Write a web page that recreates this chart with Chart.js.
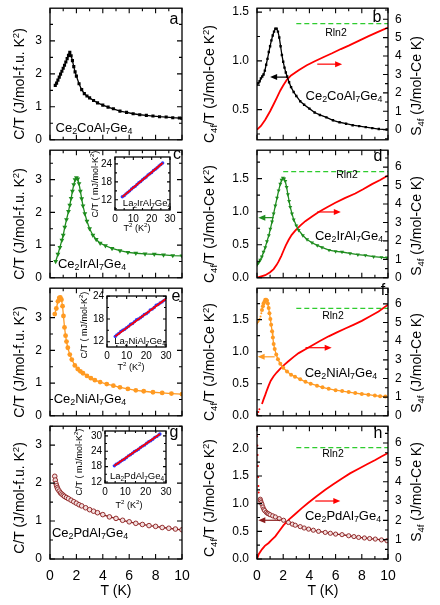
<!DOCTYPE html>
<html>
<head>
<meta charset="utf-8">
<title>Ce2TAl7Ge4 specific heat</title>
<script src="https://cdn.jsdelivr.net/npm/chart.js@4.4.1/dist/chart.umd.min.js"></script>
<style>
html, body { margin: 0; padding: 0; background: #fff; }
#fig { position: relative; width: 440px; height: 605px; overflow: hidden; font-family: 'Liberation Sans', Arial, sans-serif; color: #000; }
#fig canvas { position: absolute; }
.lbl { position: absolute; z-index: 2; white-space: nowrap; line-height: 1; transform: translate(-50%, -50%); }
.rot { transform: translate(-50%, -50%) rotate(-90deg); }
.lbl sub { font-size: 0.68em; vertical-align: -0.3em; line-height: 0; }
.lbl sup { font-size: 0.68em; vertical-align: 0.5em; line-height: 0; }
.yt { font-size: 14px; }
.cmp { font-size: 13px; }
.let { font-size: 16px; }
.rl { font-size: 10.5px; }
.ins { font-size: 9.5px; }
.it { font-size: 9px; }
.xt { font-size: 14px; }
</style>
</head>
<body>
<div id="fig">
  <!-- axis titles -->
  <div class="lbl rot yt" style="left:19px;top:84px">C/T (J/mol-f.u. K<sup>2</sup>)</div>
  <div class="lbl rot yt" style="left:19px;top:224px">C/T (J/mol-f.u. K<sup>2</sup>)</div>
  <div class="lbl rot yt" style="left:19px;top:362px">C/T (J/mol-f.u. K<sup>2</sup>)</div>
  <div class="lbl rot yt" style="left:19px;top:498px">C/T (J/mol-f.u. K<sup>2</sup>)</div>
  <div class="lbl rot yt" style="left:209px;top:84px">C<sub>4f</sub>/T (J/mol-Ce K<sup>2</sup>)</div>
  <div class="lbl rot yt" style="left:209px;top:224px">C<sub>4f</sub>/T (J/mol-Ce K<sup>2</sup>)</div>
  <div class="lbl rot yt" style="left:209px;top:362px">C<sub>4f</sub>/T (J/mol-Ce K<sup>2</sup>)</div>
  <div class="lbl rot yt" style="left:209px;top:498px">C<sub>4f</sub>/T (J/mol-Ce K<sup>2</sup>)</div>
  <div class="lbl rot yt" style="left:416px;top:86px">S<sub>4f</sub> (J/mol-Ce K)</div>
  <div class="lbl rot yt" style="left:416px;top:226px">S<sub>4f</sub> (J/mol-Ce K)</div>
  <div class="lbl rot yt" style="left:416px;top:363px">S<sub>4f</sub> (J/mol-Ce K)</div>
  <div class="lbl rot yt" style="left:416px;top:492px">S<sub>4f</sub> (J/mol-Ce K)</div>
  <div class="lbl xt" style="left:116px;top:590px">T (K)</div>
  <div class="lbl xt" style="left:323px;top:590px">T (K)</div>

  <!-- compounds -->
  <div class="lbl cmp" style="left:94px;top:127px">Ce<sub>2</sub>CoAl<sub>7</sub>Ge<sub>4</sub></div>
  <div class="lbl cmp" style="left:92px;top:263px">Ce<sub>2</sub>IrAl<sub>7</sub>Ge<sub>4</sub></div>
  <div class="lbl cmp" style="left:90px;top:398px">Ce<sub>2</sub>NiAl<sub>7</sub>Ge<sub>4</sub></div>
  <div class="lbl cmp" style="left:90px;top:532px">Ce<sub>2</sub>PdAl<sub>7</sub>Ge<sub>4</sub></div>
  <div class="lbl cmp" style="left:344px;top:95px">Ce<sub>2</sub>CoAl<sub>7</sub>Ge<sub>4</sub></div>
  <div class="lbl cmp" style="left:349px;top:235px">Ce<sub>2</sub>IrAl<sub>7</sub>Ge<sub>4</sub></div>
  <div class="lbl cmp" style="left:341px;top:372px">Ce<sub>2</sub>NiAl<sub>7</sub>Ge<sub>4</sub></div>
  <div class="lbl cmp" style="left:343px;top:515px">Ce<sub>2</sub>PdAl<sub>7</sub>Ge<sub>4</sub></div>

  <!-- panel letters -->
  <div class="lbl let" style="left:174px;top:19px">a</div>
  <div class="lbl let" style="left:377px;top:17px">b</div>
  <div class="lbl let" style="left:177px;top:154px">c</div>
  <div class="lbl let" style="left:378px;top:156px">d</div>
  <div class="lbl let" style="left:176px;top:296px">e</div>
  <div class="lbl let" style="left:383px;top:290px">f</div>
  <div class="lbl let" style="left:174px;top:432px">g</div>
  <div class="lbl let" style="left:378px;top:433px">h</div>

  <!-- Rln2 -->
  <div class="lbl rl" style="left:336px;top:32px">Rln2</div>
  <div class="lbl rl" style="left:347px;top:174px">Rln2</div>
  <div class="lbl rl" style="left:333px;top:315px">Rln2</div>
  <div class="lbl rl" style="left:333px;top:453px">Rln2</div>

  <!-- insets -->
  <div class="lbl rot it" style="left:95px;top:184px">C/T ( mJ/mol-K<sup>2</sup>)</div>
  <div class="lbl it" style="left:137px;top:228px">T<sup>2</sup> (K<sup>2</sup>)</div>
  <div class="lbl ins" style="left:147px;top:203px">La<sub>2</sub>IrAl<sub>7</sub>Ge<sub>4</sub></div>
  <div class="lbl rot it" style="left:84px;top:325px">C/T ( mJ/mol-K<sup>2</sup>)</div>
  <div class="lbl it" style="left:131px;top:367px">T<sup>2</sup> (K<sup>2</sup>)</div>
  <div class="lbl ins" style="left:140px;top:341px">La<sub>2</sub>NiAl<sub>7</sub>Ge<sub>4</sub></div>
  <div class="lbl rot it" style="left:79px;top:462px">C/T ( mJ/mol-K<sup>2</sup>)</div>
  <div class="lbl it" style="left:129px;top:505px">T<sup>2</sup> (K<sup>2</sup>)</div>
  <div class="lbl ins" style="left:137px;top:476px">La<sub>2</sub>PdAl<sub>7</sub>Ge<sub>4</sub></div>
</div>
<script>
// ---- data ----
// Ce2CoAl7Ge4, C/T per f.u.
const tCo = [0.4, 0.5, 0.6, 0.7, 0.8, 0.9, 1.0, 1.1, 1.2, 1.3, 1.4, 1.5, 1.6, 1.7, 1.8, 1.9, 2.0, 2.2, 2.4, 2.6, 2.8, 3.0, 3.3, 3.6, 4.0, 4.4, 4.8, 5.3, 5.8, 6.3, 6.8, 7.3, 7.8, 8.3, 8.8, 9.3, 9.8, 10];
const cCo = [1.65, 1.72, 1.81, 1.90, 1.99, 2.08, 2.17, 2.26, 2.36, 2.46, 2.56, 2.65, 2.55, 2.40, 2.22, 2.06, 1.93, 1.70, 1.52, 1.40, 1.33, 1.27, 1.19, 1.12, 1.05, 0.99, 0.94, 0.87, 0.83, 0.79, 0.76, 0.74, 0.72, 0.70, 0.69, 0.67, 0.66, 0.65];
// Ce2IrAl7Ge4
const tIr = [0.43, 0.6, 0.75, 0.9, 1.0, 1.12, 1.25, 1.4, 1.5, 1.6, 1.7, 1.8, 1.9, 2.0, 2.1, 2.2, 2.3, 2.4, 2.5, 2.64, 2.8, 3.0, 3.25, 3.5, 3.8, 4.2, 4.7, 5.3, 5.9, 6.5, 7.2, 7.9, 8.6, 9.3, 10];
const cIr = [0.5, 0.72, 0.93, 1.15, 1.3, 1.55, 1.78, 2.03, 2.22, 2.43, 2.65, 2.85, 3.0, 3.06, 3.02, 2.88, 2.65, 2.42, 2.2, 1.96, 1.73, 1.5, 1.3, 1.17, 1.06, 0.98, 0.9, 0.83, 0.78, 0.75, 0.73, 0.72, 0.7, 0.68, 0.67];
// Ce2NiAl7Ge4
const tNi = [0.36, 0.48, 0.6, 0.7, 0.78, 0.87, 0.95, 1.02, 1.1, 1.18, 1.25, 1.35, 1.5, 1.65, 1.88, 2.1, 2.3, 2.5, 2.8, 3.1, 3.4, 3.8, 4.3, 4.8, 5.3, 5.9, 6.5, 7.1, 7.8, 8.5, 9.2, 10];
const cNi = [3.11, 3.28, 3.5, 3.6, 3.62, 3.55, 3.35, 3.05, 2.7, 2.45, 2.27, 2.08, 1.87, 1.72, 1.54, 1.43, 1.36, 1.30, 1.22, 1.15, 1.09, 1.03, 0.97, 0.92, 0.87, 0.82, 0.78, 0.75, 0.72, 0.70, 0.68, 0.66];
// Ce2PdAl7Ge4
const tPd = [0.36, 0.4, 0.45, 0.5, 0.55, 0.6, 0.7, 0.8, 0.9, 1.0, 1.1, 1.25, 1.4, 1.6, 1.8, 2.0, 2.2, 2.4, 2.7, 3.0, 3.3, 3.6, 4.0, 4.5, 5.0, 5.5, 6.0, 6.5, 7.0, 7.5, 8.0, 8.5, 9.0, 9.5, 10];
const cPd = [2.18, 2.08, 1.99, 1.93, 1.88, 1.84, 1.79, 1.74, 1.71, 1.68, 1.65, 1.62, 1.59, 1.55, 1.51, 1.47, 1.43, 1.40, 1.35, 1.30, 1.26, 1.22, 1.17, 1.11, 1.07, 1.02, 0.98, 0.94, 0.91, 0.88, 0.86, 0.83, 0.81, 0.79, 0.77];

// 4f part per Ce and entropy
const tCo4f = [0, 0.1, 0.2, 0.3, 0.4, 0.5, 0.6, 0.7, 0.8, 0.9, 1.0, 1.1, 1.2, 1.3, 1.4, 1.5, 1.6, 1.7, 1.8, 1.9, 2.0, 2.1, 2.2, 2.3, 2.45, 2.6, 2.8, 3.0, 3.3, 3.6, 4.0, 4.4, 4.8, 5.3, 5.8, 6.3, 6.8, 7.3, 7.8, 8.3, 8.8, 9.3, 9.9];
const cCo4f = [0.76, 0.77, 0.79, 0.82, 0.84, 0.86, 0.9, 0.96, 1.02, 1.09, 1.15, 1.21, 1.26, 1.30, 1.33, 1.33, 1.30, 1.24, 1.15, 1.06, 0.99, 0.93, 0.88, 0.84, 0.78, 0.73, 0.68, 0.64, 0.585, 0.55, 0.51, 0.47, 0.445, 0.42, 0.39, 0.37, 0.355, 0.34, 0.33, 0.32, 0.31, 0.30, 0.295];
const tSCo = [0, 0.3, 0.63, 1.0, 1.27, 1.5, 1.78, 2.0, 2.29, 2.6, 3.18, 3.8, 4.45, 5.1, 5.73, 6.4, 7.0, 7.8, 8.52, 9.2, 10];
const sCo = [0, 0.2, 0.54, 1.0, 1.38, 1.72, 2.13, 2.4, 2.72, 2.95, 3.23, 3.5, 3.73, 3.95, 4.15, 4.38, 4.57, 4.84, 5.08, 5.3, 5.55];

const tIr4f = [0, 0.12, 0.25, 0.37, 0.5, 0.63, 0.76, 0.9, 1.02, 1.15, 1.27, 1.4, 1.53, 1.65, 1.78, 1.88, 1.98, 2.07, 2.16, 2.26, 2.36, 2.45, 2.54, 2.67, 2.8, 3.0, 3.18, 3.5, 3.82, 4.2, 4.6, 4.96, 5.5, 6.0, 6.49, 7.1, 7.7, 8.27, 8.9, 9.5, 9.92];
const cIr4f = [0.2, 0.23, 0.27, 0.32, 0.39, 0.46, 0.55, 0.64, 0.74, 0.85, 0.97, 1.09, 1.21, 1.32, 1.42, 1.48, 1.51, 1.5, 1.46, 1.37, 1.26, 1.16, 1.07, 0.97, 0.88, 0.79, 0.72, 0.64, 0.58, 0.53, 0.49, 0.46, 0.42, 0.4, 0.39, 0.37, 0.35, 0.34, 0.32, 0.31, 0.305];
const tSIr = [0, 0.63, 1.0, 1.27, 1.5, 1.65, 1.85, 2.03, 2.2, 2.42, 2.65, 2.92, 3.3, 3.69, 4.2, 4.71, 5.35, 5.98, 6.7, 7.5, 8.1, 8.78, 9.4, 10];
const sIr = [0, 0.14, 0.3, 0.47, 0.7, 0.89, 1.18, 1.48, 1.76, 2.06, 2.33, 2.56, 2.83, 3.07, 3.33, 3.57, 3.83, 4.07, 4.32, 4.57, 4.8, 5.08, 5.3, 5.55];

const tNiLow = [0, 0.07, 0.14, 0.2, 0.27, 0.33];
const cNiLow = [1.44, 1.46, 1.48, 1.51, 1.55, 1.6];
const tNi4f = [0.38, 0.45, 0.5, 0.57, 0.63, 0.7, 0.76, 0.83, 0.89, 0.95, 1.02, 1.08, 1.15, 1.21, 1.27, 1.35, 1.47, 1.6, 1.78, 2.0, 2.29, 2.6, 2.9, 3.3, 3.7, 4.1, 4.58, 5.0, 5.47, 6.0, 6.5, 7.0, 7.5, 8.0, 8.5, 9.0, 9.4, 9.8];
const cNi4f = [1.65, 1.71, 1.75, 1.78, 1.81, 1.81, 1.80, 1.75, 1.68, 1.6, 1.51, 1.42, 1.32, 1.22, 1.12, 1.04, 0.955, 0.88, 0.81, 0.75, 0.69, 0.64, 0.61, 0.57, 0.53, 0.5, 0.47, 0.445, 0.42, 0.4, 0.385, 0.37, 0.355, 0.34, 0.33, 0.315, 0.305, 0.30];
const tSNiLow = [0.03, 0.1, 0.18];
const sNiLow = [0.05, 0.2, 0.35];
const tSNi = [0.38, 0.5, 0.63, 0.76, 0.89, 1.05, 1.27, 1.5, 1.78, 2.1, 2.42, 2.8, 3.18, 3.7, 4.2, 4.8, 5.47, 6.1, 6.74, 7.4, 8.0, 8.6, 9.28, 10];
const sNi = [0.63, 0.88, 1.12, 1.38, 1.62, 1.88, 2.12, 2.32, 2.53, 2.74, 2.94, 3.16, 3.36, 3.57, 3.77, 4.01, 4.26, 4.47, 4.68, 4.89, 5.09, 5.32, 5.59, 5.96];

const tPdLow = [0, 0.01, 0.03, 0.05, 0.07, 0.09, 0.11, 0.13];
const cPdLow = [2.38, 2.22, 2.05, 1.88, 1.68, 1.48, 1.32, 1.2];
const tPd4f = [0.25, 0.28, 0.32, 0.38, 0.45, 0.52, 0.58, 0.7, 0.8, 0.89, 1.0, 1.2, 1.4, 1.7, 2.03, 2.4, 2.7, 2.92, 3.3, 3.6, 3.94, 4.3, 4.7, 5.21, 5.6, 6.0, 6.49, 7.0, 7.4, 7.76, 8.2, 8.6, 9.03, 9.5, 9.92];
const cPd4f = [1.08, 1.05, 1.02, 0.99, 0.94, 0.9, 0.875, 0.845, 0.825, 0.815, 0.8, 0.78, 0.76, 0.73, 0.70, 0.66, 0.63, 0.61, 0.585, 0.56, 0.54, 0.52, 0.5, 0.48, 0.465, 0.45, 0.44, 0.42, 0.405, 0.39, 0.38, 0.37, 0.36, 0.345, 0.33];
const tSPd = [0, 0.13, 0.38, 0.6, 0.89, 1.1, 1.4, 1.7, 2.03, 2.45, 2.92, 3.4, 3.94, 4.55, 5.21, 5.85, 6.49, 7.1, 7.76, 8.4, 9.03, 9.5, 10];
const sPd = [0, 0.25, 0.5, 0.68, 0.83, 0.98, 1.17, 1.45, 1.75, 2.05, 2.33, 2.62, 2.92, 3.25, 3.58, 3.88, 4.17, 4.43, 4.67, 4.9, 5.12, 5.3, 5.48];

const RLN2 = 5.76;
const rlnFrom = [3, 2, 3, 3];

// La reference compounds, C/T (mJ/mol-K2) vs T2
const t2Ir = [4, 5, 6, 7, 8, 9, 10, 11, 12, 13, 14, 15, 16, 17, 18, 19, 20, 21, 22, 23, 24, 25, 26];
const cLaIr = [13.0, 13.4, 14.0, 14.5, 15.0, 15.6, 16.1, 16.5, 17.1, 17.7, 18.1, 18.7, 19.2, 19.6, 20.3, 20.7, 21.1, 21.8, 22.2, 22.7, 23.3, 23.8, 24.3];
const t2Ni = [4.2, 5, 6, 7, 8, 9, 10, 11, 12, 13, 14, 15, 16, 17, 18, 19, 20, 21, 22, 23, 24, 25, 26, 27, 28, 29, 30];
const cLaNi = [13.4, 13.8, 14.2, 14.7, 15.0, 15.3, 15.7, 16.1, 16.6, 16.8, 17.3, 17.8, 18.0, 18.3, 18.7, 19.2, 19.4, 19.8, 20.4, 20.6, 21.0, 21.6, 21.8, 22.2, 22.5, 22.9, 23.2];
const t2Pd = [4.6, 5.5, 6.5, 7.5, 8.5, 9.5, 10.5, 11.5, 12.5, 13.5, 14.5, 15.5, 16.5, 17.5, 18.5, 19.5, 20.5, 21.5, 22.5, 23.5, 24.5, 25.5, 26.5, 27];
const cLaPd = [18.3, 18.9, 19.3, 19.9, 20.5, 20.9, 21.5, 22.2, 22.6, 23.2, 23.9, 24.3, 24.8, 25.5, 26.0, 26.4, 27.1, 27.7, 28.1, 28.7, 29.4, 29.8, 30.4, 30.7];
const fitIr = [[4, 26], [13.0, 24.3]];
const fitNi = [[4.2, 30], [13.4, 23.3]];
const fitPd = [[4.6, 27], [18.3, 30.7]];

// ---- drawing ----
Chart.defaults.font.family = "'Liberation Sans', Arial, sans-serif";
Chart.defaults.color = '#000';
Chart.defaults.animation = false;
Chart.defaults.events = [];
Chart.defaults.plugins.legend.display = false;
Chart.defaults.plugins.tooltip.enabled = false;

const GREEN = '#1e8c1e', ORANGE = '#ff9a22', DARKRED = '#8a1c1c', RED = '#ff0000', DASH = '#2ecc2e';

const fig = document.getElementById('fig');
const M = 10;
const rows = [{ t: 3, b: 145 }, { t: 145, b: 283 }, { t: 283, b: 421 }, { t: 421, b: 559 }];
const cols = { left: { l: 50, r: 182, x0: 0, w: 220 }, right: { l: 257, r: 388, x0: 220, w: 220 } };

const mk = (xs, ys) => xs.map((x, i) => ({ x, y: ys[i] }));

// frame, inward ticks on all sides, and the little arrows
const frameTicks = {
    id: 'frameTicks',
    afterDraw(chart, args, opts) {
        const { ctx, chartArea: a } = chart;
        const majLen = opts.majorLen || 5, minLen = opts.minorLen || 3;
        ctx.save();
        ctx.strokeStyle = '#000';
        ctx.lineWidth = 1.1;
        ctx.beginPath();
        (opts.marks || []).forEach(m => {
            const sc = chart.scales[m.scale];
            [[m.minor, minLen], [m.major, majLen]].forEach(([step, len]) => {
                for (let k = Math.ceil(sc.min / step - 1e-6); k * step <= sc.max + 1e-6; k++) {
                    const p = sc.getPixelForValue(k * step);
                    m.sides.forEach(side => {
                        if (side === 'bottom') { ctx.moveTo(p, a.bottom); ctx.lineTo(p, a.bottom - len); }
                        if (side === 'top') { ctx.moveTo(p, a.top); ctx.lineTo(p, a.top + len); }
                        if (side === 'left') { ctx.moveTo(a.left, p); ctx.lineTo(a.left + len, p); }
                        if (side === 'right') { ctx.moveTo(a.right, p); ctx.lineTo(a.right - len, p); }
                    });
                }
            });
        });
        ctx.stroke();
        ctx.lineWidth = 1.3;
        ctx.strokeRect(a.left, a.top, a.right - a.left, a.bottom - a.top);
        (opts.arrows || []).forEach(ar => {
            const sx = chart.scales.x, sy = chart.scales[ar.scale];
            const x1 = sx.getPixelForValue(ar.from), x2 = sx.getPixelForValue(ar.to), y = sy.getPixelForValue(ar.y);
            const dir = Math.sign(x2 - x1);
            ctx.strokeStyle = ar.color;
            ctx.fillStyle = ar.color;
            ctx.lineWidth = 1.2;
            ctx.beginPath(); ctx.moveTo(x1, y); ctx.lineTo(x2 - dir * 4, y); ctx.stroke();
            ctx.beginPath(); ctx.moveTo(x2, y); ctx.lineTo(x2 - dir * 7, y - 3); ctx.lineTo(x2 - dir * 7, y + 3); ctx.closePath(); ctx.fill();
        });
        ctx.restore();
    }
};

const addCanvas = (x0, y0, w, h) => {
    const c = document.createElement('canvas');
    c.width = w;
    c.height = h;
    c.style.left = x0 + 'px';
    c.style.top = y0 + 'px';
    fig.appendChild(c);
    return c;
};

const noGrid = () => ({ display: false, drawTicks: false });

const curve = (xs, ys, color, extra) => Object.assign({
    data: mk(xs, ys), showLine: true, borderColor: color, backgroundColor: color,
    borderWidth: 1.3, pointBackgroundColor: color, pointBorderWidth: 0, yAxisID: 'y'
}, extra);
const entropy = (xs, ys) => ({ data: mk(xs, ys), showLine: true, borderColor: RED, borderWidth: 1.8, pointRadius: 0, yAxisID: 's' });
const dots = (xs, ys, axis) => ({ data: mk(xs, ys), showLine: false, pointRadius: 1, pointBackgroundColor: RED, pointBorderWidth: 0, yAxisID: axis });
const rln = (from) => ({ data: [{ x: from, y: RLN2 }, { x: 10, y: RLN2 }], showLine: true, borderColor: DASH, borderDash: [5, 3], borderWidth: 1.2, pointRadius: 0, yAxisID: 's' });

function panel(colName, row, yAx, sAx, datasets, arrows) {
    const col = cols[colName], r = rows[row], last = row === rows.length - 1;
    const top = r.t - M;
    const h = last ? 605 - top : r.b - r.t + 2 * M;
    const canvas = addCanvas(col.x0, top, col.w, h);
    const scales = {
        x: {
            type: 'linear', min: 0, max: 10,
            grid: noGrid(), border: { display: false },
            ticks: { display: last, stepSize: 2, includeBounds: false, autoSkip: false, maxRotation: 0, padding: 9, font: { size: 14 } },
            afterFit: sc => { sc.height = last ? 605 - r.b : 0; }
        },
        y: {
            type: 'linear', position: 'left', min: yAx.min, max: yAx.max,
            grid: noGrid(), border: { display: false },
            ticks: { stepSize: yAx.step, includeBounds: false, autoSkip: false, padding: 8, font: { size: 12 },
                callback: v => yAx.step < 1 ? v.toFixed(1) : v },
            afterFit: sc => { sc.width = col.l - col.x0; }
        }
    };
    const marks = [
        { scale: 'x', major: 2, minor: 1, sides: ['bottom', 'top'] },
        { scale: 'y', major: yAx.step, minor: yAx.step / 2, sides: sAx ? ['left'] : ['left', 'right'] }
    ];
    if (sAx) {
        scales.s = {
            type: 'linear', position: 'right', min: sAx.min, max: sAx.max,
            grid: noGrid(), border: { display: false },
            ticks: { stepSize: 1, includeBounds: false, autoSkip: false, padding: 7, font: { size: 12 } },
            afterFit: sc => { sc.width = col.x0 + col.w - col.r; }
        };
        marks.push({ scale: 's', major: 1, minor: 0.5, sides: ['right'] });
    }
    new Chart(canvas, {
        type: 'scatter',
        data: { datasets },
        options: {
            responsive: false,
            layout: { padding: { top: M, bottom: last ? 0 : M, left: 0, right: sAx ? 0 : col.x0 + col.w - col.r } },
            scales,
            plugins: { frameTicks: { marks, arrows: arrows || [] } }
        },
        plugins: [frameTicks]
    });
}

function inset(area, yAx, xs, ys, fit) {
    const pl = 24, pt = 8, pr = 10, pb = 22;
    const canvas = addCanvas(area.l - pl, area.t - pt, area.r - area.l + pl + pr, area.b - area.t + pt + pb);
    new Chart(canvas, {
        type: 'scatter',
        data: {
            datasets: [
                // first dataset is painted last, so the fit line sits on the points
                { data: mk(fit[0], fit[1]), showLine: true, borderColor: RED, borderWidth: 1.8, pointRadius: 0 },
                { data: mk(xs, ys), showLine: false, pointRadius: 1.7, pointBackgroundColor: '#2a3cff', pointBorderWidth: 0 }
            ]
        },
        options: {
            responsive: false,
            layout: { padding: { top: pt, right: pr, left: 0, bottom: 0 } },
            scales: {
                x: {
                    type: 'linear', min: 0, max: 30, grid: noGrid(), border: { display: false },
                    ticks: { stepSize: 10, includeBounds: false, autoSkip: false, maxRotation: 0, padding: 3, font: { size: 10 } },
                    afterFit: sc => { sc.height = pb; }
                },
                y: {
                    type: 'linear', min: yAx.min, max: yAx.max, grid: noGrid(), border: { display: false },
                    ticks: { stepSize: 6, includeBounds: false, autoSkip: false, padding: 3, font: { size: 10 } },
                    afterFit: sc => { sc.width = pl; }
                }
            },
            plugins: {
                frameTicks: {
                    majorLen: 3, minorLen: 2,
                    marks: [
                        { scale: 'x', major: 10, minor: 5, sides: ['bottom', 'top'] },
                        { scale: 'y', major: 6, minor: 3, sides: ['left', 'right'] }
                    ]
                }
            }
        },
        plugins: [frameTicks]
    });
}

// left column: total C/T
panel('left', 0, { min: 0, max: 3.99, step: 1 }, null, [
    curve(tCo, cCo, '#000', { pointStyle: 'rect', pointRadius: 2.2 })
]);
panel('left', 1, { min: 0, max: 3.9, step: 1 }, null, [
    curve(tIr, cIr, GREEN, { pointStyle: 'triangle', pointRotation: 180, pointRadius: 2.8 })
]);
panel('left', 2, { min: 0, max: 3.9, step: 1 }, null, [
    curve(tNi, cNi, ORANGE, { pointRadius: 2.4 })
]);
panel('left', 3, { min: 0, max: 3.5, step: 1 }, null, [
    curve(tPd, cPd, DARKRED, { pointRadius: 2.3, pointBackgroundColor: '#f3dede', pointBorderColor: DARKRED, pointBorderWidth: 0.9 })
]);

// right column: 4f part and entropy
panel('right', 0, { min: 0.19, max: 1.54, step: 0.5 }, { min: -0.55, max: 6.6 }, [
    rln(rlnFrom[0]),
    curve(tCo4f, cCo4f, '#000', { pointStyle: 'rect', pointRadius: 1.7 }),
    entropy(tSCo, sCo)
], [
    { scale: 'y', from: 2.3, to: 1.0, y: 0.833, color: '#000' },
    { scale: 's', from: 4.6, to: 6.5, y: 3.56, color: RED }
]);
panel('right', 1, { min: 0, max: 1.93, step: 0.5 }, { min: 0, max: 6.92 }, [
    rln(rlnFrom[1]),
    curve(tIr4f, cIr4f, GREEN, { pointStyle: 'triangle', pointRotation: 180, pointRadius: 2.3 }),
    entropy(tSIr, sIr)
], [
    { scale: 'y', from: 1.27, to: 0.1, y: 0.91, color: GREEN },
    { scale: 's', from: 4.6, to: 6.4, y: 3.57, color: RED }
]);
panel('right', 2, { min: 0, max: 1.99, step: 0.5 }, { min: 0, max: 6.84 }, [
    rln(rlnFrom[2]),
    { data: mk(tNiLow, cNiLow), showLine: false, pointRadius: 1, pointBackgroundColor: ORANGE, pointBorderWidth: 0, yAxisID: 'y' },
    curve(tNi4f, cNi4f, ORANGE, { pointRadius: 2 }),
    dots(tSNiLow, sNiLow, 's'),
    entropy(tSNi, sNi)
], [
    { scale: 'y', from: 1.35, to: 0.05, y: 0.92, color: ORANGE },
    { scale: 's', from: 3.7, to: 5.7, y: 3.65, color: RED }
]);
panel('right', 3, { min: 0, max: 2.4, step: 0.5 }, { min: 0, max: 6.87 }, [
    rln(rlnFrom[3]),
    dots(tPdLow, cPdLow, 'y'),
    curve(tPd4f, cPd4f, DARKRED, { pointRadius: 2.1, pointBackgroundColor: '#f3dede', pointBorderColor: DARKRED, pointBorderWidth: 0.9 }),
    entropy(tSPd, sPd)
], [
    { scale: 'y', from: 1.78, to: 0.1, y: 0.70, color: DARKRED },
    { scale: 's', from: 4.45, to: 6.36, y: 3.0, color: RED }
]);

// insets with the La analogues
inset({ l: 115, r: 170, t: 156, b: 210 }, { min: 8.6, max: 26.3 }, t2Ir, cLaIr, fitIr);
inset({ l: 107, r: 166, t: 295, b: 347 }, { min: 10.6, max: 24.05 }, t2Ni, cLaNi, fitNi);
inset({ l: 105, r: 166, t: 430, b: 483 }, { min: 11.6, max: 31.9 }, t2Pd, cLaPd, fitPd);
</script>
</body>
</html>
